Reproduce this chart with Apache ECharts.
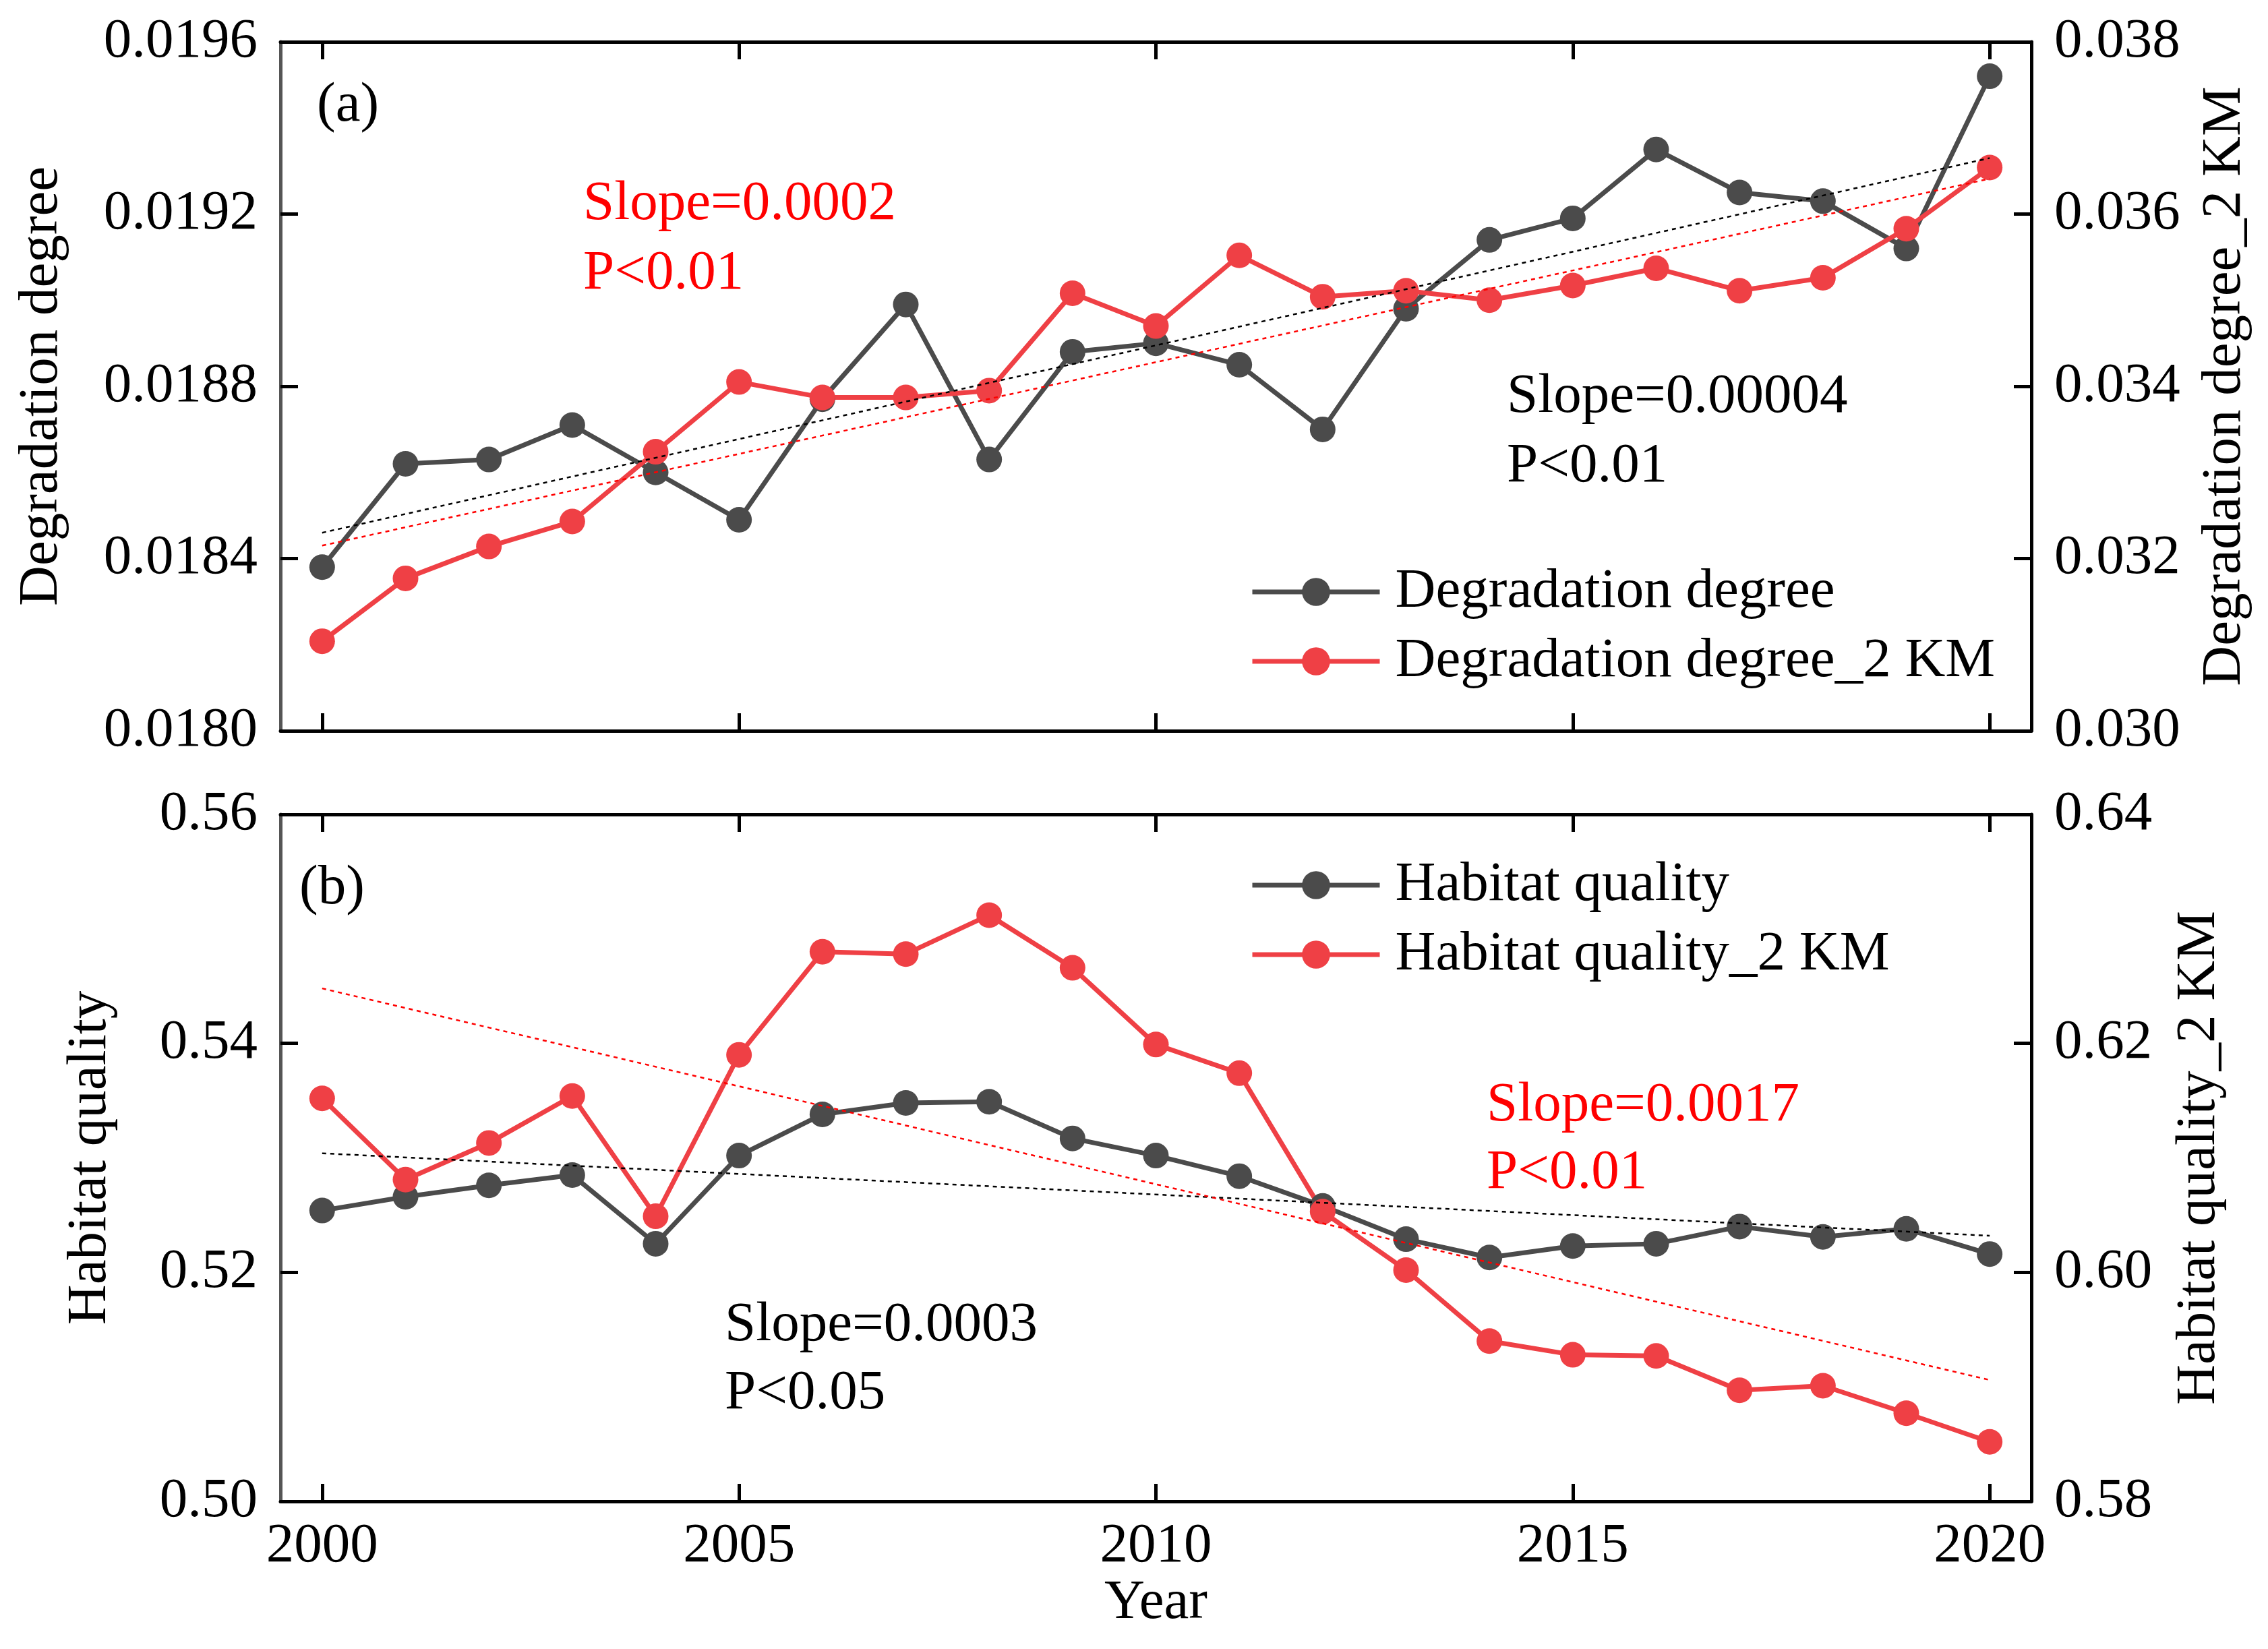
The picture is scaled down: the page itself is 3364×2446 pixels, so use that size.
<!DOCTYPE html>
<html>
<head>
<meta charset="utf-8">
<script src="https://cdn.jsdelivr.net/npm/echarts@6/dist/echarts.min.js"></script>
<style>
  html, body { margin: 0; padding: 0; background: #fff; }
  #chart { width: 3364px; height: 2446px; }
</style>
</head>
<body>
<div id="chart"></div>
<script>
// years on the x axis
const years = ['2000', '2001', '2002', '2003', '2004', '2005', '2006', '2007', '2008', '2009', '2010',
  '2011', '2012', '2013', '2014', '2015', '2016', '2017', '2018', '2019', '2020'];

// (a) degradation degree
const degradation = [0.01838, 0.01862, 0.01863, 0.01871, 0.01860, 0.01849, 0.01877, 0.01899, 0.01863, 0.01888, 0.01890,
  0.01885, 0.01870, 0.01898, 0.01914, 0.01919, 0.01935, 0.01925, 0.01923, 0.01912, 0.01952];
const degradation2km = [0.03104, 0.03177, 0.03214, 0.03243, 0.03324, 0.03405, 0.03387, 0.03387, 0.03395, 0.03508, 0.03470,
  0.03552, 0.03504, 0.03511, 0.03500, 0.03517, 0.03537, 0.03511, 0.03526, 0.03583, 0.03654];
const degradationTrend = [0.01846, 0.01933];
const degradation2kmTrend = [0.03215, 0.03641];

// (b) habitat quality
const habitat = [0.5254, 0.5266, 0.5276, 0.5285, 0.5225, 0.5302, 0.5338, 0.5348, 0.5349, 0.5317, 0.5302,
  0.5284, 0.5258, 0.5229, 0.5213, 0.5223, 0.5225, 0.5240, 0.5231, 0.5238, 0.5216];
const habitat2km = [0.6152, 0.6081, 0.6113, 0.6154, 0.6049, 0.6190, 0.6280, 0.6278, 0.6312, 0.6266, 0.6199,
  0.6174, 0.6053, 0.6002, 0.5940, 0.5928, 0.5927, 0.5897, 0.5901, 0.5877, 0.5852];
const habitatTrend = [0.5304, 0.5232];
const habitat2kmTrend = [0.6248, 0.5906];

const FONT = 'Liberation Serif';
const FS = 83;
const GREY = '#4b4b4b';
const RED = '#ef4045';

const chart = echarts.init(document.getElementById('chart'));

function xAxisFor(gridIndex, position, showLabels) {
  return {
    type: 'category',
    gridIndex: gridIndex,
    position: position,
    data: years,
    boundaryGap: true,
    axisLine: { show: true, lineStyle: { color: '#000', width: 5 } },
    axisTick: { show: true, inside: true, length: 26, interval: 4, alignWithLabel: true,
      lineStyle: { color: '#000', width: 5 } },
    axisLabel: { show: showLabels, interval: 4, margin: 26, color: '#000', fontFamily: FONT, fontSize: FS },
    splitLine: { show: false }
  };
}

function yAxisFor(gridIndex, position, min, max, interval, digits, name, nameGap, lineColor) {
  return {
    type: 'value',
    gridIndex: gridIndex,
    position: position,
    min: min,
    max: max,
    interval: interval,
    name: name,
    nameLocation: 'middle',
    nameGap: nameGap,
    nameRotate: 90,
    nameTextStyle: { color: '#000', fontFamily: FONT, fontSize: FS },
    axisLine: { show: true, lineStyle: { color: lineColor, width: 5 } },
    axisTick: { show: true, inside: true, length: 26, lineStyle: { color: '#000', width: 5 } },
    axisLabel: { margin: 34, color: '#000', fontFamily: FONT, fontSize: FS,
      formatter: (v) => v.toFixed(digits) },
    splitLine: { show: false }
  };
}

function lineSeries(name, data, color, xi, yi) {
  return {
    name: name,
    type: 'line',
    xAxisIndex: xi,
    yAxisIndex: yi,
    data: data,
    symbol: 'circle',
    symbolSize: 38,
    itemStyle: { color: color },
    lineStyle: { color: color, width: 7 },
    z: 3
  };
}

function trendSeries(ends, color, xi, yi) {
  return {
    type: 'line',
    xAxisIndex: xi,
    yAxisIndex: yi,
    data: [[years[0], ends[0]], [years[years.length - 1], ends[1]]],
    symbol: 'none',
    silent: true,
    lineStyle: { color: color, width: 2.5, type: [6, 6] },
    z: 4
  };
}

function note(text, x, y, color) {
  return {
    type: 'text',
    left: x,
    top: y - 38,
    style: { text: text, fill: color, font: FS + 'px "' + FONT + '"' }
  };
}

function legendFor(names, top) {
  return {
    data: names,
    orient: 'vertical', left: 1849, top: top,
    itemWidth: 189, itemHeight: 52, itemGap: 19,
    lineStyle: { width: 7 },
    textStyle: { color: '#000', fontFamily: FONT, fontSize: FS, lineHeight: 84, padding: [0, 0, 0, 18] }
  };
}

const option = {
  backgroundColor: '#fff',
  animation: false,
  grid: [
    { left: 416, right: 351, top: 62, height: 1022 },
    { left: 416, right: 351, top: 1208, height: 1019 }
  ],
  xAxis: [
    xAxisFor(0, 'bottom', false),
    xAxisFor(0, 'top', false),
    Object.assign(xAxisFor(1, 'bottom', true), {
      name: 'Year', nameLocation: 'middle', nameGap: 110,
      nameTextStyle: { color: '#000', fontFamily: FONT, fontSize: FS }
    }),
    xAxisFor(1, 'top', false)
  ],
  yAxis: [
    yAxisFor(0, 'left', 0.018, 0.0196, 0.0004, 4, 'Degradation degree', 312, '#555'),
    yAxisFor(0, 'right', 0.030, 0.038, 0.002, 3, 'Degradation degree_2 KM', 246, '#000'),
    yAxisFor(1, 'left', 0.50, 0.56, 0.02, 2, 'Habitat quality', 240, '#555'),
    yAxisFor(1, 'right', 0.58, 0.64, 0.02, 2, 'Habitat quality_2 KM', 208, '#000')
  ],
  legend: [
    legendFor(['Degradation degree', 'Degradation degree_2 KM'], 831),
    legendFor(['Habitat quality', 'Habitat quality_2 KM'], 1266)
  ],
  series: [
    lineSeries('Degradation degree', degradation, GREY, 0, 0),
    lineSeries('Degradation degree_2 KM', degradation2km, RED, 0, 1),
    trendSeries(degradationTrend, '#000', 0, 0),
    trendSeries(degradation2kmTrend, '#ff0000', 0, 1),
    lineSeries('Habitat quality', habitat, GREY, 2, 2),
    lineSeries('Habitat quality_2 KM', habitat2km, RED, 2, 3),
    trendSeries(habitatTrend, '#000', 2, 2),
    trendSeries(habitat2kmTrend, '#ff0000', 2, 3)
  ],
  graphic: [
    note('(a)', 470, 154, '#000'),
    note('Slope=0.0002', 865, 300, '#ff0000'),
    note('P<0.01', 865, 403, '#ff0000'),
    note('Slope=0.00004', 2235, 586, '#000'),
    note('P<0.01', 2235, 689, '#000'),
    note('(b)', 444, 1315, '#000'),
    note('Slope=0.0017', 2205, 1637, '#ff0000'),
    note('P<0.01', 2205, 1737, '#ff0000'),
    note('Slope=0.0003', 1075, 1963, '#000'),
    note('P<0.05', 1075, 2064, '#000')
  ]
};

chart.setOption(option);
</script>
</body>
</html>
